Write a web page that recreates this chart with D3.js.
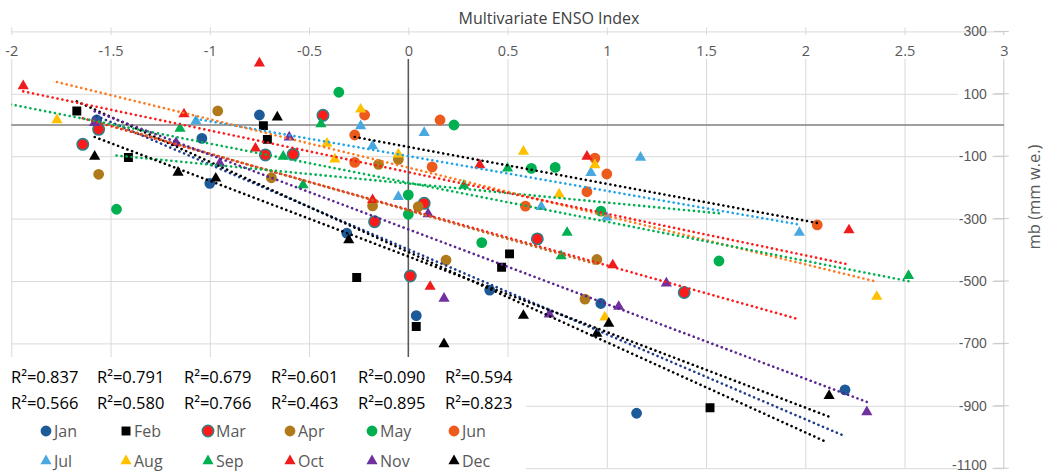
<!DOCTYPE html>
<html>
<head>
<meta charset="utf-8">
<script src="https://cdn.jsdelivr.net/npm/d3@7"></script>
<style>
  html, body { margin: 0; padding: 0; background: #fff; }
  svg { display: block; font-family: "Open Sans", "Noto Sans", sans-serif; }
</style>
</head>
<body>
<div id="chart"></div>
<script>
// MEI (x) and mass balance (y, mm w.e.) per month; null = no mb for that year
const meiJan = [-1.57, -1.04, -1.00, -0.75, -0.31, 0.04, 0.41, 0.97, 1.15, 2.20];
const mbJan  = [16, -43, -187, 32, -347, -611, -529, -572, -924, -849];
const meiFeb = [-1.67, -1.41, -0.73, -0.71, -0.26, 0.04, 0.47, 0.51, 1.52, 2.10];
const mbFeb  = [45, -104, -2, -46, -489, -646, -456, -413, -906, null];
const meiMar = [-1.64, -1.56, -0.72, -0.58, -0.43, -0.17, 0.08, 0.01, 0.65, 1.39, 1.96];
const mbMar  = [-62, -14, -96, -94, 31, -310, -251, -484, -365, -537, null];
const meiApr = [-1.56, -0.96, -0.69, -0.18, -0.15, -0.05, 0.05, 0.19, 0.89, 0.95];
const mbApr  = [-158, 45, -169, -259, -126, -110, -262, -433, -558, -431];
const meiMay = [-1.47, -0.35, 0.00, 0.00, 0.23, 0.37, 0.62, 0.74, 0.97, 1.565];
const mbMay  = [-270, 105, -224, -286, 0, -377, -139, -136, -276, -436];
const meiJun = [-0.27, -0.27, -0.22, 0.12, 0.16, 0.59, 0.90, 0.94, 1.00, 2.06];
const mbJun  = [-32, -120, 32, -134, 16, -260, -214, -106, -157, -320];
const meiJul = [-1.07, -0.24, -0.18, -0.05, 0.08, 0.67, 0.92, 1.00, 1.17, 1.97];
const mbJul  = [13, -3, -67, -230, -25, -262, -153, -296, -104, -345];
const meiAug = [-1.77, -0.41, -0.37, -0.24, -0.05, 0.58, 0.76, 0.94, 0.99, 2.36];
const mbAug  = [16, -59, -110, 50, -94, -85, -222, -128, -616, -550];
const meiSep = [-2.25, -1.15, -0.63, -0.53, -0.44, 0.28, 0.50, 0.77, 0.80, 2.52];
const mbSep  = [50, -11, -101, -192, 3, -194, -139, -420, -345, -483];
const meiOct = [-1.94, -1.13, -0.77, -0.75, -0.18, 0.11, 0.36, 0.90, 1.03, 2.22];
const mbOct  = [125, 35, -75, 198, -240, -518, -128, -101, -449, -337];
const meiNov = [-1.58, -1.17, -0.95, -0.60, 0.10, 0.18, 0.71, 1.06, 1.30, 2.31];
const mbNov  = [7, -57, -123, -39, -285, -556, -607, -582, -507, -920];
const meiDec = [-1.58, -1.16, -0.97, -0.66, -0.30, 0.18, 0.58, 0.95, 1.01, 2.12];
const mbDec  = [-101, -152, -171, 25, -369, -702, -611, -668, -636, -868];

const months = ["Jan", "Feb", "Mar", "Apr", "May", "Jun", "Jul", "Aug", "Sep", "Oct", "Nov", "Dec"];
const rSquared = ["0.837", "0.791", "0.679", "0.601", "0.090", "0.594",
                  "0.566", "0.580", "0.766", "0.463", "0.895", "0.823"];
const xTicks = [-2, -1.5, -1, -0.5, 0, 0.5, 1, 1.5, 2, 2.5, 3];
const yTicks = [300, 100, -100, -300, -500, -700, -900, -1100];

const meiAll = [meiJan, meiFeb, meiMar, meiApr, meiMay, meiJun, meiJul, meiAug, meiSep, meiOct, meiNov, meiDec];
const mbAll  = [mbJan, mbFeb, mbMar, mbApr, mbMay, mbJun, mbJul, mbAug, mbSep, mbOct, mbNov, mbDec];

// styles
const shapes = ["circle", "square", "circle", "circle", "circle", "circle",
                "triangle", "triangle", "triangle", "triangle", "triangle", "triangle"];
const fills = ["#1d5b98", "#000000", "#ff1a1a", "#b07a1c", "#00b050", "#ec5a1c",
               "#4aa8e0", "#ffc000", "#00b050", "#ee1c1c", "#7030a0", "#000000"];
const trendColors = ["#1f3d8c", "#000000", "#ff1a1a", "#c8641e", "#00b050", "#000000",
                     "#1ea3e8", "#ff7a1f", "#00b050", "#ff1a1a", "#5b2592", "#000000"];

const width = 1046, height = 473;
const x = d3.scaleLinear().domain([-2, 3]).range([11.3, 1003.8]);
const y = d3.scaleLinear().domain([-1100, 300]).range([468.2, 31.4]);

const svg = d3.select("#chart").append("svg")
  .attr("width", width).attr("height", height);

svg.append("defs").append("clipPath").attr("id", "plot-clip")
  .append("rect")
  .attr("x", x(-2)).attr("y", y(300))
  .attr("width", x(3) - x(-2)).attr("height", y(-1100) - y(300));

// gridlines
svg.append("g")
  .attr("transform", `translate(0,${y(-1100)})`)
  .call(d3.axisTop(x).tickValues(xTicks.slice(0, -1)).tickSize(y(-1100) - y(300) + 4).tickFormat(""))
  .call(g => g.select(".domain").remove())
  .call(g => g.selectAll("line").attr("stroke", "#d9d9d9"));

svg.append("g")
  .attr("transform", `translate(${x(-2)},0)`)
  .call(d3.axisRight(y).tickValues(yTicks).tickSize(x(3) - x(-2)).tickFormat(""))
  .call(g => g.select(".domain").remove())
  .call(g => g.selectAll("line").attr("stroke", "#d9d9d9"));

// right axis line and cross ticks
svg.append("line")
  .attr("x1", x(3)).attr("x2", x(3))
  .attr("y1", y(300)).attr("y2", y(-1100))
  .attr("stroke", "#c8c8c8");
svg.append("g").selectAll("line").data(yTicks).join("line")
  .attr("x1", x(3) - 10).attr("x2", x(3) + 5)
  .attr("y1", d => y(d)).attr("y2", d => y(d))
  .attr("stroke", "#c8c8c8");

// white label bands of the axes
svg.append("rect").attr("x", 0).attr("y", 35).attr("width", 1012).attr("height", 24).attr("fill", "#fff");
svg.append("rect").attr("x", 958).attr("y", 35).attr("width", 34).attr("height", y(-1100) - 33).attr("fill", "#fff");

// zero lines
svg.append("line")
  .attr("x1", x(-2)).attr("x2", x(3))
  .attr("y1", y(0)).attr("y2", y(0))
  .attr("stroke", "#7f7f7f").attr("stroke-width", 1.5);
svg.append("line")
  .attr("x1", x(0)).attr("x2", x(0))
  .attr("y1", 59).attr("y2", y(-1100))
  .attr("stroke", "#595959").attr("stroke-width", 1.5);

// x tick labels (top)
svg.append("g")
  .attr("transform", `translate(0,${y(300)})`)
  .call(d3.axisBottom(x).tickValues(xTicks).tickSize(0).tickPadding(14).tickFormat(d => String(d)))
  .call(g => g.select(".domain").remove())
  .call(g => g.selectAll("text")
    .attr("fill", "#595959")
    .style("font-size", "14.5px")
    .style("font-family", "'Liberation Sans Narrow', 'Open Sans', sans-serif"));

// y tick labels (left of right axis)
svg.append("g")
  .attr("transform", `translate(${x(3)},0)`)
  .call(d3.axisLeft(y).tickValues(yTicks).tickSize(0).tickPadding(17).tickFormat(d => String(d)))
  .call(g => g.select(".domain").remove())
  .call(g => g.selectAll("text")
    .attr("fill", "#595959")
    .attr("dy", d => d === -1100 ? "0.1em" : "0.32em")
    .style("font-size", "14px"));

// titles
svg.append("text")
  .attr("x", 549).attr("y", 18)
  .attr("text-anchor", "middle").attr("dominant-baseline", "central")
  .attr("fill", "#404040").style("font-size", "16px")
  .style("font-family", "'Liberation Sans Narrow', 'Open Sans', sans-serif")
  .text("Multivariate ENSO Index");

svg.append("text")
  .attr("transform", "translate(1033,197) rotate(-90)")
  .attr("text-anchor", "middle").attr("dominant-baseline", "central")
  .attr("fill", "#595959").style("font-size", "16.5px")
  .text("mb (mm w.e.)");

// marker helper
function symbolFor(shape, scale) {
  if (shape === "square") return d3.symbol(d3.symbolSquare, 80 * scale)();
  if (shape === "triangle") return d3.symbol(d3.symbolTriangle, 54 * scale)();
  return d3.symbol(d3.symbolCircle, 92 * scale)();
}

// points
const pointLayer = svg.append("g").attr("clip-path", "url(#plot-clip)");
months.forEach((m, i) => {
  const pts = meiAll[i].map((v, k) => ({ mei: v, mb: mbAll[i][k] }))
    .filter(d => d.mb !== null && d.mei >= -2 && d.mei <= 3);
  pointLayer.append("g").selectAll("path").data(pts).join("path")
    .attr("transform", d => `translate(${x(d.mei)},${y(d.mb)})`)
    .attr("d", symbolFor(shapes[i], i === 2 ? 1.1 : 1))
    .attr("fill", fills[i])
    .attr("stroke", i === 2 ? "#2f7f86" : "none")
    .attr("stroke-width", i === 2 ? 1.6 : 0);
});

// linear trendlines (least squares), spanning each month's MEI range
function trend(xs, ys) {
  const pts = xs.map((v, k) => [v, ys[k]]).filter(p => p[1] !== null);
  const mx = d3.mean(pts, p => p[0]);
  const my = d3.mean(pts, p => p[1]);
  const sxy = d3.sum(pts, p => (p[0] - mx) * (p[1] - my));
  const sxx = d3.sum(pts, p => (p[0] - mx) ** 2);
  const b = sxy / sxx, a = my - b * mx;
  const [x0, x1] = d3.extent(xs);
  return [[x0, a + b * x0], [x1, a + b * x1]];
}

const trendLayer = svg.append("g").attr("clip-path", "url(#plot-clip)");
const line = d3.line().x(d => x(d[0])).y(d => y(d[1]));
months.forEach((m, i) => {
  trendLayer.append("path")
    .attr("d", line(trend(meiAll[i], mbAll[i])))
    .attr("fill", "none")
    .attr("stroke", trendColors[i])
    .attr("stroke-width", 2.6)
    .attr("stroke-linecap", "round")
    .attr("stroke-dasharray", "0.1 4.9");
});

// legend box with R² values
svg.append("rect").attr("x", 0).attr("y", 357).attr("width", 526).attr("height", height - 357).attr("fill", "#fff");

const r2Cols = [11, 97, 184, 271, 358, 445];
const r2 = svg.append("g").style("font-size", "16.5px").attr("fill", "#000");
rSquared.forEach((v, i) => {
  r2.append("text")
    .attr("x", r2Cols[i % 6]).attr("y", i < 6 ? 376 : 402)
    .attr("dominant-baseline", "central")
    .text(`R²=${v}`);
});

const legCols = [46, 126, 208, 290, 372, 454];
const leg = svg.append("g");
months.forEach((m, i) => {
  const lx = legCols[i % 6], ly = i < 6 ? 431 : 461;
  leg.append("path")
    .attr("transform", `translate(${lx},${ly})`)
    .attr("d", symbolFor(shapes[i], i === 2 ? 1.1 : 1))
    .attr("fill", fills[i])
    .attr("stroke", i === 2 ? "#2f7f86" : "none")
    .attr("stroke-width", i === 2 ? 1.6 : 0);
  leg.append("text")
    .attr("x", lx + 8).attr("y", ly)
    .attr("dominant-baseline", "central")
    .attr("fill", "#595959").style("font-size", "16px")
    .text(m);
});
</script>
</body>
</html>
